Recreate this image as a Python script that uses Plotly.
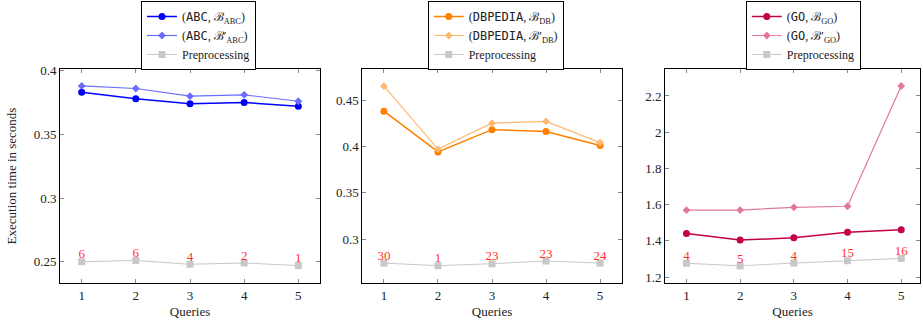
import plotly.graph_objects as go

queries = [1, 2, 3, 4, 5]

abc_b = [0.383, 0.378, 0.374, 0.375, 0.372]
abc_bp = [0.388, 0.386, 0.380, 0.381, 0.376]
abc_pre = [0.250, 0.251, 0.248, 0.249, 0.247]
abc_lbl = ["6", "6", "4", "2", "1"]

db_b = [0.438, 0.394, 0.418, 0.416, 0.401]
db_bp = [0.465, 0.397, 0.425, 0.427, 0.404]
db_pre = [0.274, 0.2712, 0.2733, 0.2762, 0.274]
db_lbl = ["30", "1", "23", "23", "24"]

go_b = [1.441, 1.404, 1.417, 1.448, 1.461]
go_bp = [1.569, 1.570, 1.585, 1.591, 2.255]
go_pre = [1.276, 1.262, 1.277, 1.290, 1.303]
go_lbl = ["4", "5", "4", "15", "16"]

p1_ticks = [0.25, 0.3, 0.35, 0.4]
p1_text = ["0.25", "0.3", "0.35", "0.4"]
p2_ticks = [0.3, 0.35, 0.4, 0.45]
p2_text = ["0.3", "0.35", "0.4", "0.45"]
p3_ticks = [1.2, 1.4, 1.6, 1.8, 2.0, 2.2]
p3_text = ["1.2", "1.4", "1.6", "1.8", "2", "2.2"]

SERIF = "Liberation Serif"
MONO = "DejaVu Sans Mono"
GREY = "#c8c8c8"
RED = "#ff3030"
TXT = "#222222"


def name(ds, sub, prime=False):
    b = "\u212C" + ("\u2032" if prime else "")
    return ("(<span style='font-family:%s'>%s</span>, %s<sub>%s</sub>)"
            % (MONO, ds, b, sub))


panels = [
    ("ABC", "ABC", abc_b, abc_bp, abc_pre, abc_lbl, "#0000ff", "#6b6bff"),
    ("DBPEDIA", "DB", db_b, db_bp, db_pre, db_lbl, "#ff8000", "#ffb870"),
    ("GO", "GO", go_b, go_bp, go_pre, go_lbl, "#c4004a", "#e0789e"),
]

fig = go.Figure()
for i, (ds, sub, b, bp, pre, lbl, c1, c2) in enumerate(panels):
    ax = "" if i == 0 else str(i + 1)
    leg = "legend" if i == 0 else "legend%d" % (i + 1)
    xa, ya = "x" + ax, "y" + ax
    fig.add_trace(go.Scatter(x=queries, y=b, mode="lines+markers", name=name(ds, sub),
                             line=dict(color=c1, width=1.5),
                             marker=dict(symbol="circle", size=7, color=c1),
                             xaxis=xa, yaxis=ya, legend=leg))
    fig.add_trace(go.Scatter(x=queries, y=bp, mode="lines+markers", name=name(ds, sub, True),
                             line=dict(color=c2, width=1.2),
                             marker=dict(symbol="diamond", size=6, color=c2),
                             xaxis=xa, yaxis=ya, legend=leg))
    fig.add_trace(go.Scatter(x=queries, y=pre, mode="lines+markers", name="Preprocessing",
                             line=dict(color=GREY, width=1),
                             marker=dict(symbol="square", size=7, color=GREY),
                             xaxis=xa, yaxis=ya, legend=leg))
    fig.add_trace(go.Scatter(x=queries, y=pre, mode="text", text=lbl,
                             textposition="top center",
                             textfont=dict(color=RED, size=13, family=SERIF),
                             showlegend=False, xaxis=xa, yaxis=ya))

W, H = 921, 322
doms_x = [(60 / W, 320 / W), (362.3 / W, 621.7 / W), (665 / W, 920 / W)]
dom_y = (1 - 283 / H, 1 - 69 / H)
xranges = [(0.6, 5.4), (0.6, 5.4), (0.6, 5.35)]
yranges = [(0.2333, 0.4013), (0.2525, 0.4835), (1.167, 2.349)]
yt = [(p1_ticks, p1_text), (p2_ticks, p2_text), (p3_ticks, p3_text)]

axis_common = dict(showline=True, linecolor="black", linewidth=1, mirror="ticks",
                   ticks="inside", ticklen=4, tickcolor="#888888", showgrid=False,
                   zeroline=False, automargin=False,
                   tickfont=dict(family=SERIF, size=13, color=TXT))
layout = {}
for i in range(3):
    k = "" if i == 0 else str(i + 1)
    layout["xaxis" + k] = dict(domain=doms_x[i], range=xranges[i], anchor="y" + k,
                               tickvals=queries, ticktext=[str(q) for q in queries],
                               title=dict(text="Queries", standoff=5,
                                          font=dict(family=SERIF, size=13, color=TXT)),
                               **axis_common)
    layout["yaxis" + k] = dict(domain=dom_y, range=yranges[i], anchor="x" + k,
                               tickvals=yt[i][0], ticktext=yt[i][1], **axis_common)
layout["yaxis"]["title"] = dict(text="Execution time in seconds", standoff=14,
                                font=dict(family=SERIF, size=13, color=TXT))

leg_x = [198.5 / W, 495.7 / W, 803.3 / W]
for i in range(3):
    key = "legend" if i == 0 else "legend%d" % (i + 1)
    layout[key] = dict(x=leg_x[i], y=1 - 1 / H, xanchor="center", yanchor="top",
                       bordercolor="black", borderwidth=1, bgcolor="white",
                       font=dict(family=SERIF, size=12, color=TXT),
                       tracegroupgap=0, itemwidth=30)

fig.update_layout(width=W, height=H, margin=dict(l=0, r=0, t=0, b=0),
                  plot_bgcolor="white", paper_bgcolor="white", **layout)

fig.write_html("out.html", config={"displayModeBar": False},
               post_script="document.body.style.margin='0';document.body.style.padding='0';")
